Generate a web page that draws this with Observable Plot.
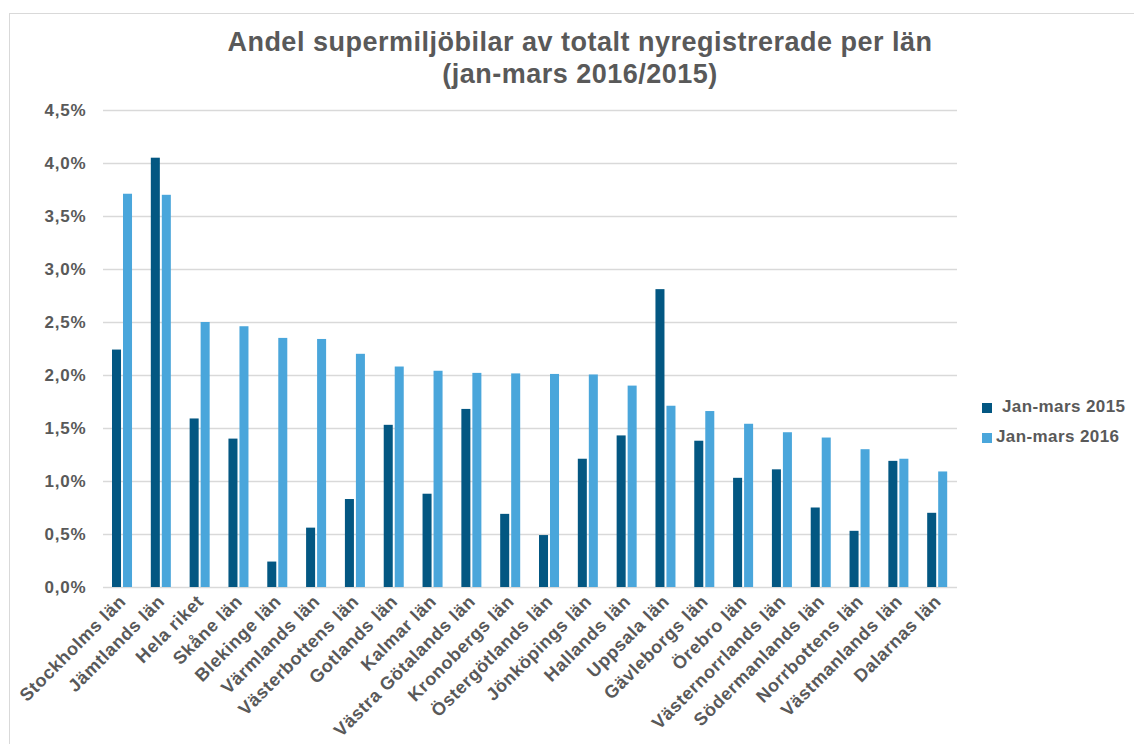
<!DOCTYPE html>
<html>
<head>
<meta charset="utf-8">
<script src="https://cdn.jsdelivr.net/npm/d3@7"></script>
<script src="https://cdn.jsdelivr.net/npm/@observablehq/plot@0.6"></script>
<style>
  html, body { margin: 0; padding: 0; background: #fff; }
  #wrap { position: relative; width: 1134px; height: 744px; overflow: hidden; font-family: "Liberation Sans", Arial, sans-serif; }
  #border { position: absolute; left: 9px; top: 13px; width: 1200px; height: 800px; border-left: 1px solid #d9d9d9; border-top: 1px solid #d9d9d9; box-sizing: border-box; }
  #title { position: absolute; left: 80px; width: 1000px; top: 26px; text-align: center; color: #595959; font-weight: bold; font-size: 27px; letter-spacing: 0.5px; line-height: 32px; white-space: nowrap; }
  #chart { position: absolute; left: 0; top: 0; }
  #chart svg g[aria-label^="x-axis"] { font-size: 18px; letter-spacing: 0.6px; }
  .leg { position: absolute; color: #595959; font-weight: bold; font-size: 17px; letter-spacing: 0.4px; white-space: nowrap; }
  .sw { position: absolute; width: 10px; height: 10px; }
</style>
</head>
<body>
<div id="wrap">
  <div id="border"></div>
  <div id="chart"></div>
  <div id="title"></div>
  <div id="legend"></div>
</div>
<script>
const titleLines = ["Andel supermiljöbilar av totalt nyregistrerade per län", "(jan-mars 2016/2015)"];
const categories = ["Stockholms län", "Jämtlands län", "Hela riket", "Skåne län", "Blekinge län", "Värmlands län", "Västerbottens län", "Gotlands län", "Kalmar län", "Västra Götalands län", "Kronobergs län", "Östergötlands län", "Jönköpings län", "Hallands län", "Uppsala län", "Gävleborgs län", "Örebro län", "Västernorrlands län", "Södermanlands län", "Norrbottens län", "Västmanlands län", "Dalarnas län"];
const series = ["Jan-mars 2015", "Jan-mars 2016"];
const values2015 = [2.24, 4.05, 1.59, 1.40, 0.24, 0.56, 0.83, 1.53, 0.88, 1.68, 0.69, 0.49, 1.21, 1.43, 2.81, 1.38, 1.03, 1.11, 0.75, 0.53, 1.19, 0.70];
const values2016 = [3.71, 3.70, 2.50, 2.46, 2.35, 2.34, 2.20, 2.08, 2.04, 2.02, 2.015, 2.01, 2.005, 1.90, 1.71, 1.66, 1.54, 1.46, 1.41, 1.30, 1.21, 1.09];
const yTicks = [0, 0.5, 1.0, 1.5, 2.0, 2.5, 3.0, 3.5, 4.0, 4.5];
const colors = ["#035782", "#4aa6db"];

const rows2015 = categories.map((c, i) => ({lan: c, value: values2015[i]}));
const rows2016 = categories.map((c, i) => ({lan: c, value: values2016[i]}));
const fmt = d => d.toFixed(1).replace(".", ",") + "%";

document.getElementById("title").innerHTML = titleLines.join("<br>");

const plot = Plot.plot({
  width: 1134,
  height: 744,
  marginLeft: 103,
  marginRight: 177,
  marginTop: 110,
  marginBottom: 157,
  style: {fontFamily: "'Liberation Sans', Arial, sans-serif", fontWeight: "bold", fontSize: "17px", color: "#595959", background: "transparent", letterSpacing: "0.8px"},
  x: {type: "band", domain: categories, paddingInner: 0, paddingOuter: 0, align: 0.5, round: false, tickRotate: -45, tickSize: 0, tickPadding: 11, label: null},
  y: {domain: [0, 4.5], ticks: yTicks, tickFormat: fmt, tickSize: 0, tickPadding: 17, label: null},
  marks: [
    Plot.ruleY(yTicks, {stroke: "#d9d9d9", strokeWidth: 1.5}),
    Plot.barY(rows2015, {x: "lan", y: "value", fill: colors[0], insetLeft: 9, insetRight: 20.8}),
    Plot.barY(rows2016, {x: "lan", y: "value", fill: colors[1], insetLeft: 20, insetRight: 9.8})
  ]
});
document.getElementById("chart").appendChild(plot);

const legend = document.getElementById("legend");
const legPos = [{sx: 982, sy: 403, tx: 1002, ty: 397}, {sx: 982, sy: 433, tx: 996, ty: 427}];
series.forEach((s, i) => {
  const sw = document.createElement("div");
  sw.className = "sw";
  sw.style.left = legPos[i].sx + "px";
  sw.style.top = legPos[i].sy + "px";
  sw.style.background = colors[i];
  legend.appendChild(sw);
  const t = document.createElement("div");
  t.className = "leg";
  t.style.left = legPos[i].tx + "px";
  t.style.top = legPos[i].ty + "px";
  t.textContent = s;
  legend.appendChild(t);
});
</script>
</body>
</html>
